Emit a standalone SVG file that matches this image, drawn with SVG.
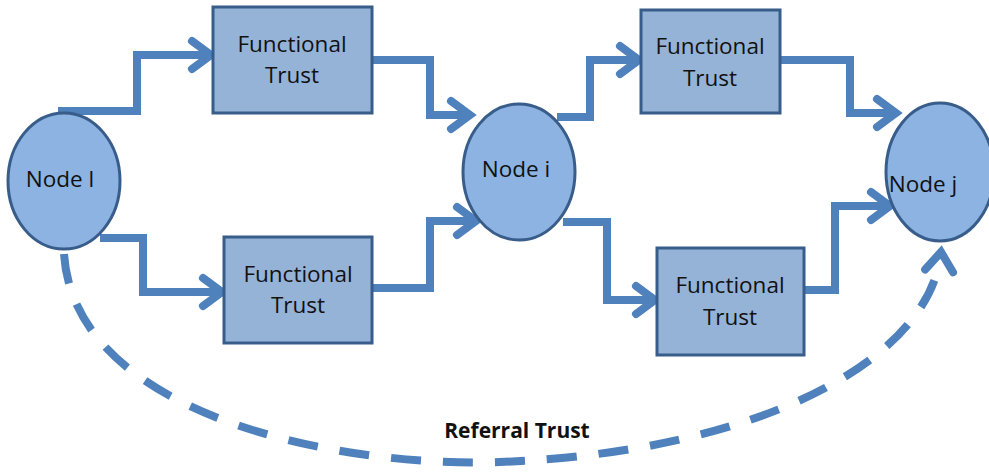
<svg xmlns="http://www.w3.org/2000/svg" width="989" height="475" viewBox="0 0 989 475">
  <style>
    .box { fill: #95b3d7; stroke: #385d8a; stroke-width: 3; }
    .node { fill: #8db3e2; stroke: #385d8a; stroke-width: 3; }
    .lbl { font-family: "Open Sans", "Liberation Sans", sans-serif; font-size: 22.5px; fill: #111; text-anchor: middle; }
    .link { fill: none; stroke: #4f81bd; stroke-width: 8; stroke-linejoin: miter; }
    .dash { fill: none; stroke: #4f81bd; stroke-width: 8; stroke-dasharray: 30 22; }
    .ref { font-family: "Open Sans", "Liberation Sans", sans-serif; font-size: 21px; font-weight: bold; fill: #111; text-anchor: middle; }
  </style>
  <defs>
    <marker id="chev" markerUnits="userSpaceOnUse" viewBox="-24 -18 30 36" markerWidth="30" markerHeight="36" refX="0" refY="0" orient="auto" overflow="visible">
      <path d="M -19,-14 L 0,0 L -19,14" fill="none" stroke="#4f81bd" stroke-width="8" stroke-linecap="round"/>
    </marker>
  </defs>

  <!-- connectors -->
  <g id="connectors">
    <path class="link" d="M 58,111 H 137 V 55 H 211" marker-end="url(#chev)"/>
    <path class="link" d="M 372,60 H 430 V 115 H 470" marker-end="url(#chev)"/>
    <path class="link" d="M 100,238 H 143 V 292 H 222" marker-end="url(#chev)"/>
    <path class="link" d="M 372,288 H 430 V 221 H 476" marker-end="url(#chev)"/>
    <path class="link" d="M 557,117 H 590 V 60 H 639" marker-end="url(#chev)"/>
    <path class="link" d="M 780,60 H 850 V 113 H 896" marker-end="url(#chev)"/>
    <path class="link" d="M 563,222 H 607 V 300 H 655" marker-end="url(#chev)"/>
    <path class="link" d="M 804,290 H 835 V 206 H 890" marker-end="url(#chev)"/>
    <path class="dash" d="M 64,254 C 75,420 350,468 500,462 C 760,452 930,360 941,252" marker-end="url(#chev)"/>
  </g>

  <g id="box-tl">
    <rect class="box" x="213" y="7" width="159" height="106"/>
    <text class="lbl" x="292" y="52">Functional</text>
    <text class="lbl" x="292" y="83">Trust</text>
  </g>
  <g id="box-bl">
    <rect class="box" x="224" y="237" width="148" height="106"/>
    <text class="lbl" x="298" y="282">Functional</text>
    <text class="lbl" x="298" y="313">Trust</text>
  </g>
  <g id="box-tr">
    <rect class="box" x="641" y="10" width="139" height="103"/>
    <text class="lbl" x="710" y="54">Functional</text>
    <text class="lbl" x="710" y="86">Trust</text>
  </g>
  <g id="box-br">
    <rect class="box" x="657" y="248" width="147" height="107"/>
    <text class="lbl" x="730" y="293">Functional</text>
    <text class="lbl" x="730" y="325">Trust</text>
  </g>

  <g id="node-l">
    <ellipse class="node" cx="64" cy="181" rx="56" ry="68"/>
    <text class="lbl" x="60" y="187">Node l</text>
  </g>
  <g id="node-i">
    <ellipse class="node" cx="519" cy="172" rx="56" ry="68"/>
    <text class="lbl" x="516" y="177">Node i</text>
  </g>
  <g id="node-j">
    <ellipse class="node" cx="940" cy="172" rx="54" ry="69"/>
    <text class="lbl" x="923" y="192">Node j</text>
  </g>

  <text class="ref" x="517" y="438">Referral Trust</text>
</svg>
